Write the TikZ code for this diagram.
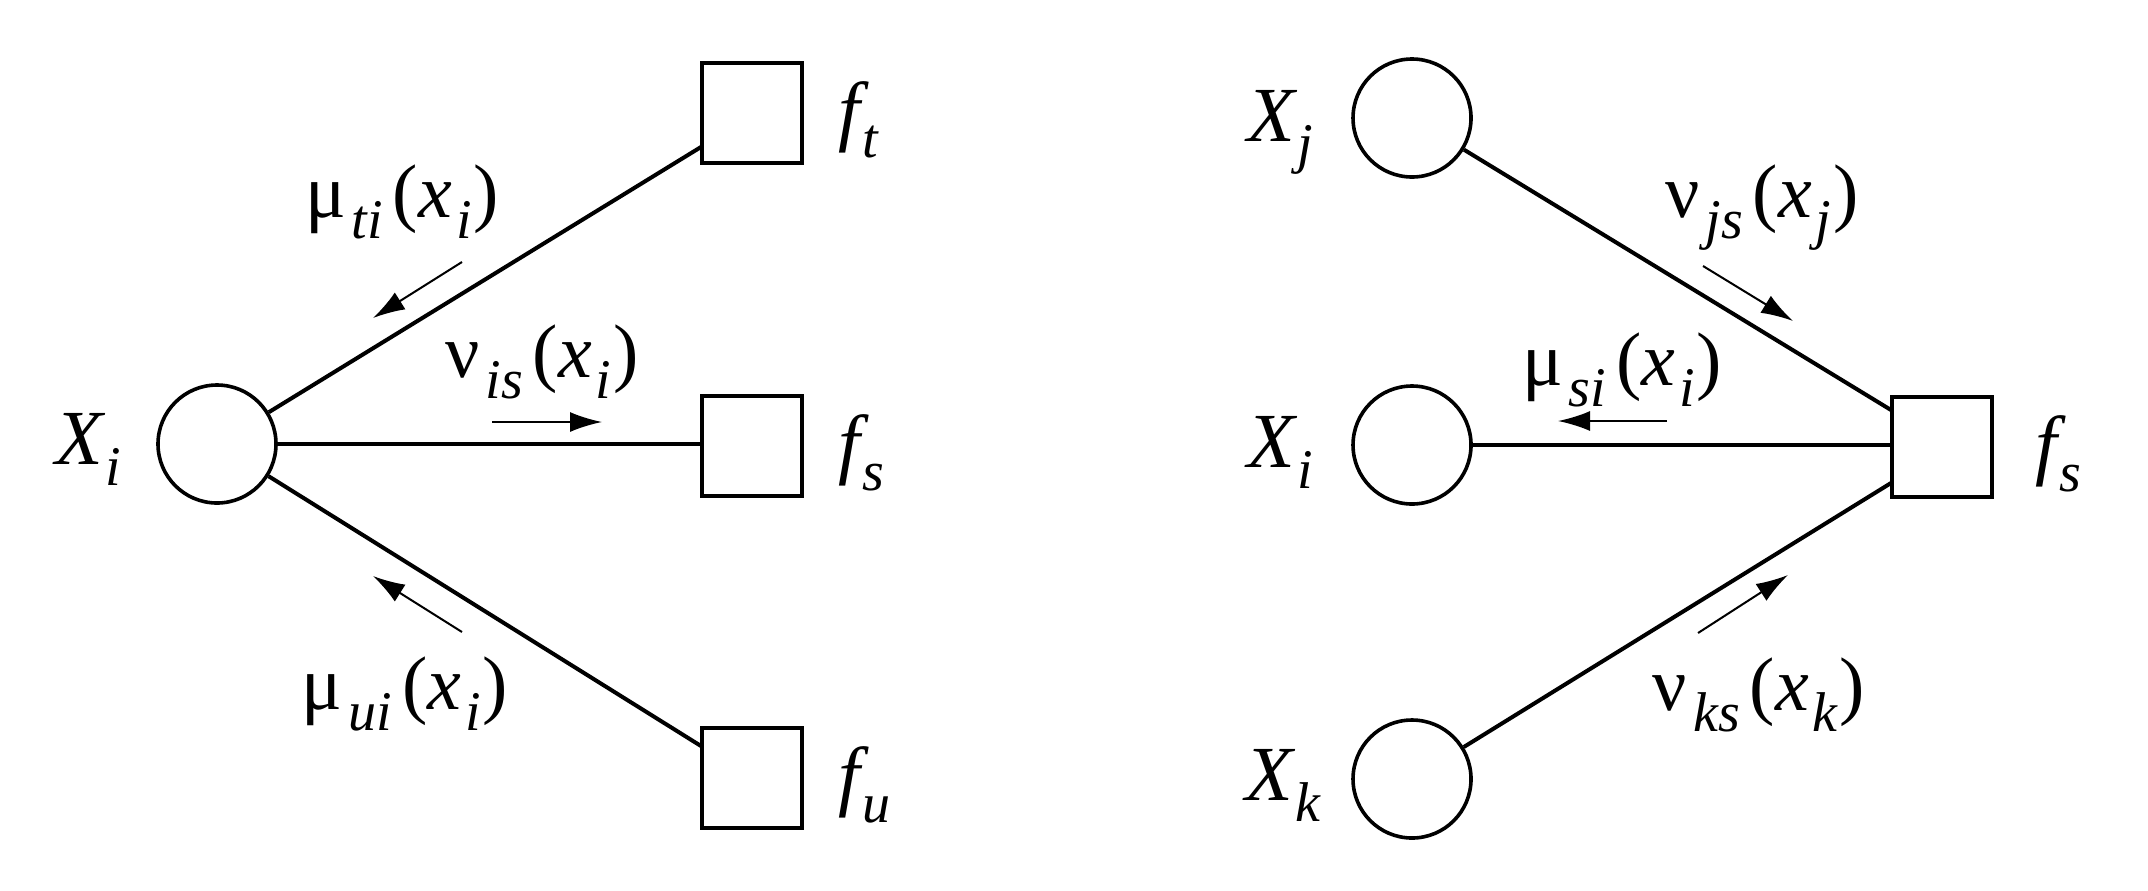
\documentclass[tikz,border=0pt]{standalone}
\usepackage{fontspec}
\newfontfamily\lbs{Liberation Serif}
\newfontfamily\lbsi{Liberation Serif Italic}
\usetikzlibrary{arrows.meta}
\newcommand\lsub[1]{\lower5.3pt\hbox{\fontsize{14}{16}\selectfont\lbsi #1}}
\newcommand\msgtext[3]{\lbs #1\kern1.5pt\lsub{#2}\kern2.5pt({\lbsi x}\kern1pt\lsub{#3}\kern0.5pt)}
\newcommand\vlab[2]{{\lbsi #1}\kern0.5pt\lsub{#2}}
\begin{document}
\begin{tikzpicture}[x=0.25pt,y=-0.25pt,
  var/.style={circle,draw,line width=0.9pt,minimum size=29.5pt,inner sep=0pt},
  fac/.style={rectangle,draw,line width=1.1pt,minimum size=25pt,inner sep=0pt},
  edge/.style={line width=1pt},
  msg/.style={line width=0.5pt,-{Latex[length=8pt,width=5pt]}},
  lab/.style={font=\fontsize{19.5}{22}\selectfont,inner sep=0pt,anchor=base west},
  mlab/.style={font=\fontsize{19}{22}\selectfont,inner sep=0pt,anchor=base}]
\useasboundingbox (0,0) rectangle (2148,890);
% left part
\node[var] (Xi) at (217,444) {};
\node[fac] (ft) at (752,113) {};
\node[fac] (fs) at (752,446) {};
\node[fac] (fu) at (752,778) {};
\coordinate (pt) at (701,147);
\coordinate (ps) at (701,444);
\coordinate (pu) at (701,746);
\draw[edge] (Xi) -- (pt);
\draw[edge] (Xi) -- (ps);
\draw[edge] (Xi) -- (pu);
\node[lab] (LXi) at (55,464) {\vlab{X}{i}};
\node[lab] (Lft) at (838,136) {\vlab{f}{t}};
\node[lab] (Lfs) at (838,469) {\vlab{f}{s}};
\node[lab] (Lfu) at (838,801) {\vlab{f}{u}};
\node[mlab] (Mti) at (402,217) {\msgtext{μ}{ti}{i}};
\node[mlab] (Nis) at (542,377) {\msgtext{ν}{is}{i}};
\node[mlab] (Mui) at (405,709) {\msgtext{μ}{ui}{i}};
\coordinate (a1s) at (462,262); \coordinate (a1e) at (373,318);
\coordinate (a2s) at (492,422); \coordinate (a2e) at (602,422);
\coordinate (a3s) at (462,632); \coordinate (a3e) at (373,576);
\draw[msg] (a1s) -- (a1e);
\draw[msg] (a2s) -- (a2e);
\draw[msg] (a3s) -- (a3e);
% right part
\node[var] (Xj) at (1412,118) {};
\node[var] (Xi2) at (1412,445) {};
\node[var] (Xk) at (1412,779) {};
\node[fac] (fs2) at (1942,447) {};
\coordinate (qj) at (1891,410);
\coordinate (qi) at (1891,445);
\coordinate (qk) at (1891,483);
\draw[edge] (Xj) -- (qj);
\draw[edge] (Xi2) -- (qi);
\draw[edge] (Xk) -- (qk);
\node[lab] (LXj) at (1247,141) {\vlab{X}{j}};
\node[lab] (LXi2) at (1247,467) {\vlab{X}{i}};
\node[lab] (LXk) at (1245,800) {\vlab{X}{k}};
\node[lab] (Lfs2) at (2035,470) {\vlab{f}{s}};
\node[mlab] (Njs) at (1762,217) {\msgtext{ν}{js}{j}};
\node[mlab] (Msi) at (1622,385) {\msgtext{μ}{si}{i}};
\node[mlab] (Nks) at (1759,710) {\msgtext{ν}{ks}{k}};
\coordinate (b1s) at (1703,266); \coordinate (b1e) at (1793,321);
\coordinate (b2s) at (1667,421); \coordinate (b2e) at (1558,421);
\coordinate (b3s) at (1698,633); \coordinate (b3e) at (1788,575);
\draw[msg] (b1s) -- (b1e);
\draw[msg] (b2s) -- (b2e);
\draw[msg] (b3s) -- (b3e);
\end{tikzpicture}
\end{document}
